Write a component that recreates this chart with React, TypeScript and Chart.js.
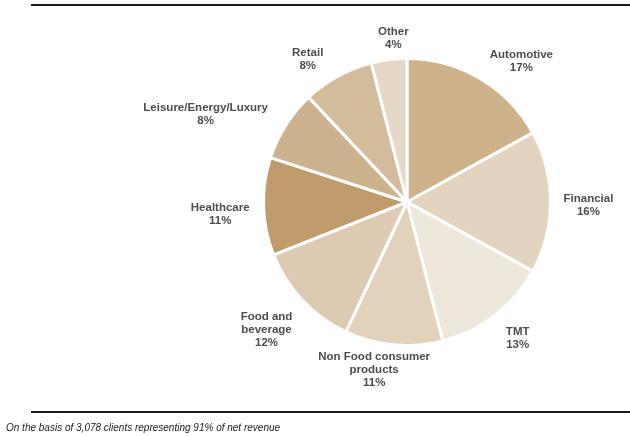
import React, { useEffect, useRef } from "react";
import { Chart, registerables } from "chart.js";

Chart.register(...registerables);

const categories = [
  "Automotive",
  "Financial",
  "TMT",
  "Non Food consumer\nproducts",
  "Food and\nbeverage",
  "Healthcare",
  "Leisure/Energy/Luxury",
  "Retail",
  "Other",
];
const shares = [17, 16, 13, 11, 12, 11, 8, 8, 4];
const sliceColors = [
  "#CDB28C",
  "#E3D4BF",
  "#EEE7DC",
  "#E2D2BC",
  "#DCCAB2",
  "#C09B6C",
  "#CDB28E",
  "#D3BC9C",
  "#E5D8C6",
];
const footnote = "On the basis of 3,078 clients representing 91% of net revenue";

const FONT = "bold 11.5px 'Liberation Sans', Arial, sans-serif";
const LINE_H = 13.3;
// small manual nudges of each label from its computed radial position
const labelNudge = [
  [14, 0],
  [-9, 3],
  [2, 7],
  [-12, -2],
  [-1, 11],
  [8, 7],
  [-9, 0],
  [-12, 1],
  [9, -1],
];

const outsideLabels = {
  id: "outsideLabels",
  afterDatasetsDraw(chart: any) {
    const ctx = chart.ctx as CanvasRenderingContext2D;
    const meta = chart.getDatasetMeta(0);
    const data = chart.data.datasets[0].data as number[];
    ctx.save();
    ctx.font = FONT;
    ctx.fillStyle = "#4D4D4D";
    ctx.textAlign = "center";
    ctx.textBaseline = "middle";
    meta.data.forEach((arc: any, i: number) => {
      const p = arc.getProps(["x", "y", "startAngle", "endAngle", "outerRadius"], true);
      const mid = (p.startAngle + p.endAngle) / 2;
      const dx = Math.cos(mid);
      const dy = Math.sin(mid);
      const lines = String(chart.data.labels[i]).split("\n").concat([data[i] + "%"]);
      const w = Math.max(...lines.map((l) => ctx.measureText(l).width));
      const h = lines.length * LINE_H;
      const rx = p.outerRadius + 22;
      const ry = p.outerRadius + 7;
      const n = labelNudge[i] || [0, 0];
      const cx = p.x + dx * rx + (dx * w) / 2 + n[0];
      const cy = p.y + dy * ry + (dy * h) / 2 + n[1];
      lines.forEach((l, k) => {
        ctx.fillText(l, cx, cy - h / 2 + LINE_H / 2 + k * LINE_H);
      });
    });
    ctx.restore();
  },
};

export default function App() {
  const ref = useRef<HTMLCanvasElement>(null);
  useEffect(() => {
    const chart = new Chart(ref.current!, {
      type: "pie",
      data: {
        labels: categories,
        datasets: [
          {
            data: shares,
            backgroundColor: sliceColors,
            borderColor: "#FFFFFF",
            borderWidth: 3,
          },
        ],
      },
      options: {
        animation: false,
        responsive: false,
        maintainAspectRatio: false,
        layout: { padding: { left: 262, right: 78, top: 57, bottom: 89 } },
        plugins: {
          legend: { display: false },
          tooltip: { enabled: false },
        },
      },
      plugins: [outsideLabels],
    });
    return () => chart.destroy();
  }, []);

  return (
    <div
      style={{
        position: "fixed",
        left: 0,
        top: 0,
        width: 630,
        height: 436,
        background: "#FFFFFF",
        overflow: "hidden",
      }}
    >
      <canvas ref={ref} width={630} height={436} style={{ position: "absolute", left: 0, top: 0 }} />
      <div style={{ position: "absolute", left: 31, top: 4, width: 599, height: 2, background: "#1A1A1A" }} />
      <div style={{ position: "absolute", left: 31, top: 411, width: 599, height: 2, background: "#1A1A1A" }} />
      <div
        style={{
          position: "absolute",
          left: 6,
          top: 421,
          fontFamily: "'Liberation Sans', Arial, sans-serif",
          fontStyle: "italic",
          fontSize: 10,
          color: "#1A1A1A",
          whiteSpace: "nowrap",
          lineHeight: "14px",
        }}
      >
        {footnote}
      </div>
    </div>
  );
}
